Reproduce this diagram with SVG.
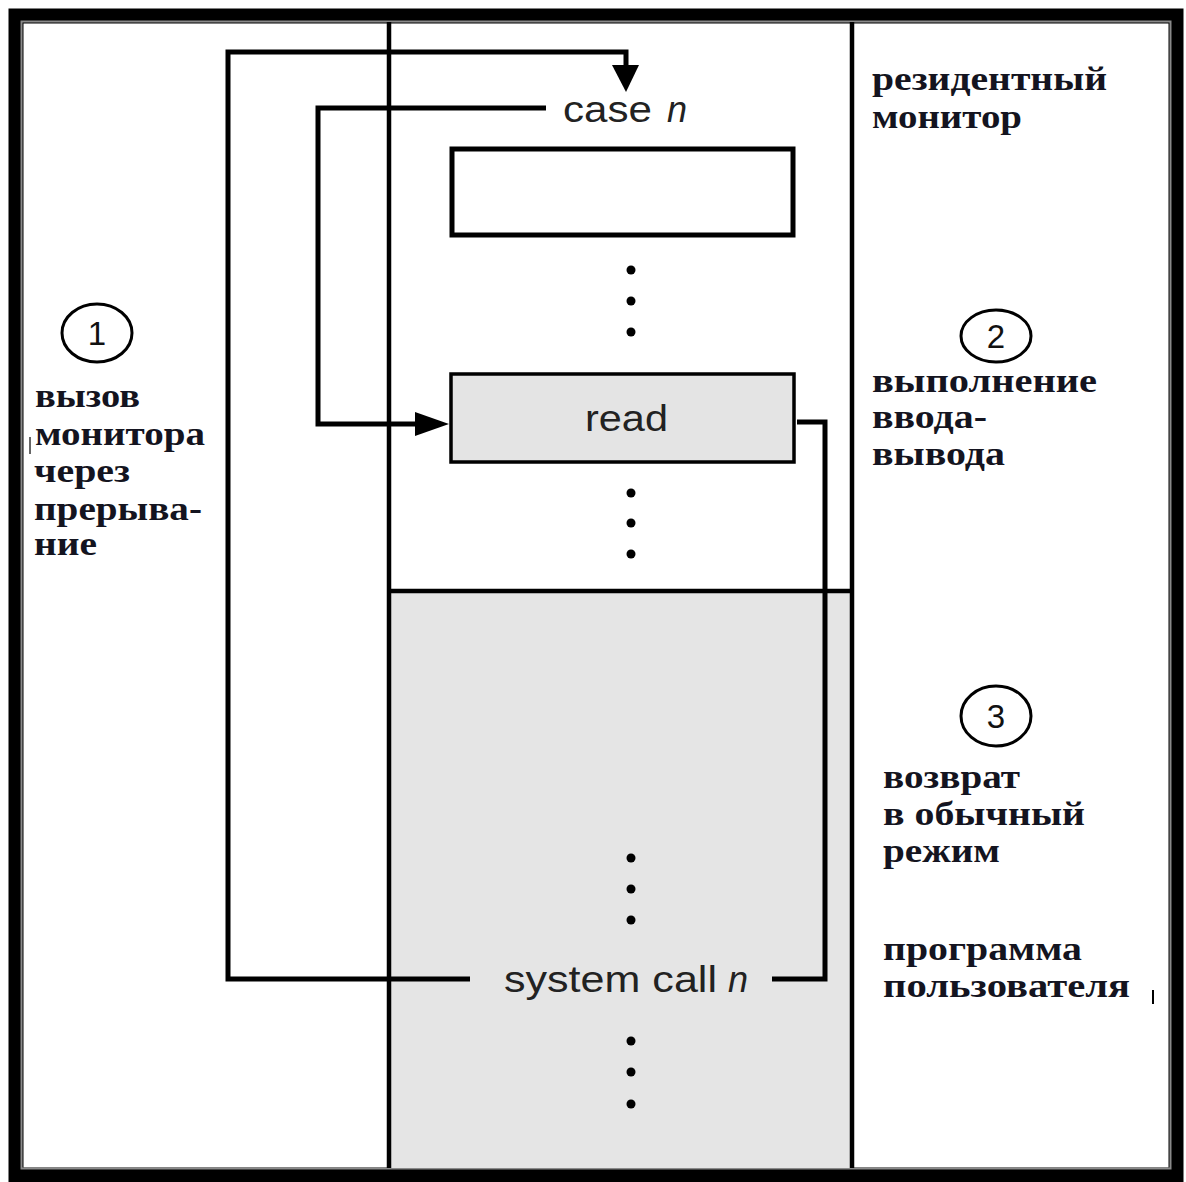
<svg xmlns="http://www.w3.org/2000/svg" width="1186" height="1182" viewBox="0 0 1186 1182">
<style>
.frame{fill:#fff;stroke:#000;stroke-width:15}
.frame2{fill:none;stroke:#8a8a8a;stroke-width:2}
.col{stroke:#000;stroke-width:4.5;fill:none}
.conn{stroke:#000;stroke-width:5;fill:none}
.box{stroke:#000;stroke-width:5}
.lbl{font-family:"Liberation Sans",Arial,sans-serif;font-size:36px;fill:#222}
.ru{font-family:"Liberation Serif","Times New Roman",serif;font-weight:bold;font-size:34px;fill:#141420}
.num{font-family:"Liberation Sans",Arial,sans-serif;font-size:33px;fill:#111;text-anchor:middle}
.circ{fill:none;stroke:#000;stroke-width:3}
.dot{fill:#000}
</style>
<defs>
<marker id="ah" markerWidth="10" markerHeight="10" viewBox="0 0 10 10" refX="10" refY="5" orient="auto" markerUnits="userSpaceOnUse">
<path d="M0,0 L10,5 L0,10 z" fill="#000"/>
</marker>
</defs>
<g id="frame">
<rect class="frame" x="16" y="16" width="1160" height="1159"/>
<rect class="frame2" x="21.5" y="21.5" width="1149" height="1147"/>
</g>
<g id="column">
<rect x="389" y="591" width="463" height="577" fill="#e5e5e5"/>
<line class="col" x1="389" y1="22" x2="389" y2="1168"/>
<line class="col" x1="852" y1="22" x2="852" y2="1168"/>
<line class="col" x1="389" y1="591" x2="852" y2="591" stroke-width="5"/>
</g>
<g id="case-box">
<rect class="box" x="452" y="149" width="341" height="86" fill="#fff"/>
</g>
<g id="read-box">
<rect x="451" y="374" width="343" height="88" fill="#e4e4e4" stroke="#000" stroke-width="3.5"/>
<text class="lbl" x="585" y="431" textLength="83" lengthAdjust="spacingAndGlyphs">read</text>
</g>
<g id="case-label">
<text class="lbl" x="563" y="122"><tspan textLength="89" lengthAdjust="spacingAndGlyphs">case</tspan><tspan x="667" font-style="italic">n</tspan></text>
</g>
<g id="syscall-label">
<text class="lbl" x="504" y="992"><tspan textLength="213" lengthAdjust="spacingAndGlyphs">system call</tspan><tspan x="728" font-style="italic">n</tspan></text>
</g>
<g id="dots">
<circle class="dot" cx="631" cy="270" r="4.5"/>
<circle class="dot" cx="631" cy="301" r="4.5"/>
<circle class="dot" cx="631" cy="332" r="4.5"/>
<circle class="dot" cx="631" cy="493" r="4.5"/>
<circle class="dot" cx="631" cy="523" r="4.5"/>
<circle class="dot" cx="631" cy="554" r="4.5"/>
<circle class="dot" cx="631" cy="858" r="4.5"/>
<circle class="dot" cx="631" cy="889" r="4.5"/>
<circle class="dot" cx="631" cy="920" r="4.5"/>
<circle class="dot" cx="631" cy="1041" r="4.5"/>
<circle class="dot" cx="631" cy="1072" r="4.5"/>
<circle class="dot" cx="631" cy="1104" r="4.5"/>
</g>
<g id="connectors">
<path class="conn" d="M470,979 H228 V52 H626 V66"/>
<path d="M612,65 L639,65 L626,92 z" fill="#000"/>
<path class="conn" d="M546,108 H318 V424 H418"/>
<path d="M415,412 L449,424 L415,436 z" fill="#000"/>
<path class="conn" d="M797,422 H825 V979 H772"/>
</g>
<g id="step1">
<ellipse class="circ" cx="97" cy="333" rx="35" ry="29"/>
<text class="num" x="97" y="345">1</text>
<text class="ru" x="35" y="407" textLength="105" lengthAdjust="spacingAndGlyphs">вызов</text>
<text class="ru" x="35" y="445" textLength="170" lengthAdjust="spacingAndGlyphs">монитора</text>
<text class="ru" x="34" y="482" textLength="96" lengthAdjust="spacingAndGlyphs">через</text>
<text class="ru" x="34" y="520" textLength="168" lengthAdjust="spacingAndGlyphs">прерыва-</text>
<text class="ru" x="34" y="555" textLength="63" lengthAdjust="spacingAndGlyphs">ние</text>
<line x1="30" y1="437" x2="30" y2="454" stroke="#666" stroke-width="2"/>
</g>
<g id="monitor-label">
<text class="ru" x="872" y="90" textLength="235" lengthAdjust="spacingAndGlyphs">резидентный</text>
<text class="ru" x="872" y="128" textLength="150" lengthAdjust="spacingAndGlyphs">монитор</text>
</g>
<g id="step2">
<ellipse class="circ" cx="996" cy="336" rx="35" ry="26"/>
<text class="num" x="996" y="348">2</text>
<text class="ru" x="872" y="392" textLength="225" lengthAdjust="spacingAndGlyphs">выполнение</text>
<text class="ru" x="872" y="428" textLength="115" lengthAdjust="spacingAndGlyphs">ввода-</text>
<text class="ru" x="872" y="465" textLength="133" lengthAdjust="spacingAndGlyphs">вывода</text>
</g>
<g id="step3">
<ellipse class="circ" cx="996" cy="716" rx="35" ry="30"/>
<text class="num" x="996" y="728">3</text>
<text class="ru" x="883" y="788" textLength="137" lengthAdjust="spacingAndGlyphs">возврат</text>
<text class="ru" x="883" y="825" textLength="202" lengthAdjust="spacingAndGlyphs">в обычный</text>
<text class="ru" x="883" y="862" textLength="117" lengthAdjust="spacingAndGlyphs">режим</text>
</g>
<g id="user-label">
<text class="ru" x="883" y="960" textLength="199" lengthAdjust="spacingAndGlyphs">программа</text>
<text class="ru" x="883" y="997" textLength="247" lengthAdjust="spacingAndGlyphs">пользователя</text>
<line x1="1153" y1="990" x2="1153" y2="1004" stroke="#000" stroke-width="2"/>
</g>
</svg>
